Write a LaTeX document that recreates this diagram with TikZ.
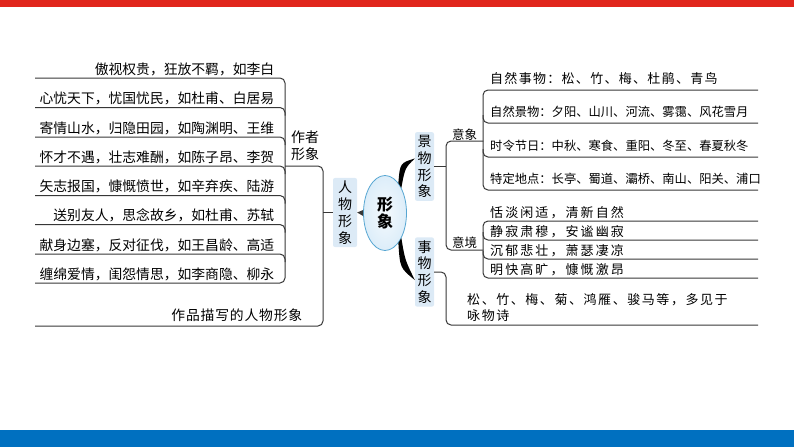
\documentclass[tikz,border=0pt]{standalone}
\usepackage{fontspec}
\setmainfont{Noto Sans CJK SC}
\usepackage{tikz}
\usetikzlibrary{shapes.geometric}
\definecolor{barred}{RGB}{225,38,28}
\definecolor{barblue}{RGB}{0,112,192}
\definecolor{boxblue}{RGB}{220,234,246}
\definecolor{ringblue}{RGB}{86,166,210}
\definecolor{ovalblue}{RGB}{220,237,249}
\definecolor{linegray}{RGB}{55,55,55}

\begin{document}
\begin{tikzpicture}[x=1pt,y=-1pt,
  branch/.style={draw=linegray, line width=1pt, rounded corners=5pt},
  catbox/.style={fill=boxblue, rounded corners=2pt, inner ysep=3pt, text width=14pt,
    align=center, font=\fontsize{14}{16.8}\selectfont},
  leftleaf/.style={anchor=south west, inner xsep=0pt, inner ysep=2pt, text width=239pt,
    align=right, font=\fontsize{13.8}{16}\selectfont},
  rightleaf/.style={anchor=south west, inner xsep=7pt, inner ysep=5pt, text width=275pt,
    align=left, font=\fontsize{12.3}{15}\selectfont},
  moodleaf/.style={rightleaf, inner ysep=1.5pt,
    font=\fontsize{13}{15}\selectfont\addfontfeature{LetterSpace=16}},
  kindtag/.style={anchor=south west, inner xsep=0pt, text width=37pt, align=center,
    font=\fontsize{12.5}{15}\selectfont}]

\useasboundingbox (0,0) rectangle (794,447);
\fill[barred] (0,0) rectangle (794,7);
\fill[barblue] (0,430) rectangle (794,447);

\coordinate (lspine) at (285,0);
\coordinate (mspine) at (323,0);
\coordinate (rend) at (758,0);

\node[leftleaf] (a1) at (35,78) {傲视权贵，狂放不羁，如李白};
\node[leftleaf] (a2) at (35,107.5) {心忧天下，忧国忧民，如杜甫、白居易};
\node[leftleaf] (a3) at (35,137) {寄情山水，归隐田园，如陶渊明、王维};
\node[leftleaf] (a4) at (35,166) {怀才不遇，壮志难酬，如陈子昂、李贺};
\node[leftleaf] (a5) at (35,195.5) {矢志报国，慷慨愤世，如辛弃疾、陆游};
\node[leftleaf] (a6) at (35,224.5) {送别友人，思念故乡，如杜甫、苏轼};
\node[leftleaf] (a7) at (35,254) {献身边塞，反对征伐，如王昌龄、高适};
\node[leftleaf] (a8) at (35,283) {缠绵爱情，闺怨情思，如李商隐、柳永};

\node[anchor=south west, inner xsep=6pt, inner ysep=5pt, align=left,
  font=\fontsize{14}{17}\selectfont] (zz) at (285,166) {作者\\形象};
\node[leftleaf, text width=267pt, inner ysep=4pt,
  font=\fontsize{13.8}{16}\selectfont\addfontfeature{LetterSpace=6}] (bt) at (35,326) {作品描写的人物形象};

\node[catbox, inner xsep=5pt] (rw) at (345,212.5) {人\\物\\形\\象};
\node[ellipse, draw=ringblue, line width=0.8pt, inner color=white!70!ovalblue,
  outer color=ovalblue, minimum width=43pt, minimum height=75pt, inner sep=0pt,
  align=center, font=\bfseries\fontsize{16}{17.5}\selectfont] (xx) at (385,213) {形\\象};
\node[catbox, inner xsep=2.5pt] (jw) at (424.5,166.5) {景\\物\\形\\象};
\node[catbox, inner xsep=2.5pt] (sw) at (424.5,272) {事\\物\\形\\象};

\node[kindtag, inner ysep=0pt] (yx) at (446,141) {意象};
\node[kindtag, inner ysep=1.5pt] (yj) at (446,250) {意境};

\node[rightleaf, font=\fontsize{13}{15}\selectfont\addfontfeature{LetterSpace=10}] (m1) at (483,90) {自然事物：松、竹、梅、杜鹃、青鸟};
\node[rightleaf] (m2) at (483,123) {自然景物：夕阳、山川、河流、雾霭、风花雪月};
\node[rightleaf] (m3) at (483,157) {时令节日：中秋、寒食、重阳、冬至、春夏秋冬};
\node[rightleaf] (m4) at (483,190) {特定地点：长亭、蜀道、灞桥、南山、阳关、浦口};

\node[moodleaf] (n1) at (483,221) {恬淡闲适，清新自然};
\node[moodleaf] (n2) at (483,240) {静寂肃穆，安谧幽寂};
\node[moodleaf] (n3) at (483,259) {沉郁悲壮，萧瑟凄凉};
\node[moodleaf] (n4) at (483,278) {明快高旷，慷慨激昂};

\node[rightleaf, inner xsep=21pt, inner ysep=3pt,
  font=\fontsize{13}{16}\selectfont\addfontfeature{LetterSpace=12}] (ww) at (446,325) {松、竹、梅、菊、鸿雁、骏马等，多见于\\咏物诗};

\draw[branch] (a1.south west) -- (a1.south -| lspine) -- (a8.south -| lspine) -- (a8.south west);
\draw[branch] (a2.south west) -- (a2.south -| lspine) -- ++(0,8);
\draw[branch] (a3.south west) -- (a3.south -| lspine) -- ++(0,8);
\draw[branch] (a4.south west) -- (a4.south -| lspine) -- ++(0,8);
\draw[branch] (a5.south west) -- (a5.south -| lspine) -- ++(0,8);
\draw[branch] (a6.south west) -- (a6.south -| lspine) -- ++(0,8);
\draw[branch] (a7.south west) -- (a7.south -| lspine) -- ++(0,8);
\draw[branch] (zz.south west) -- (zz.south -| mspine) -- (bt.south -| mspine) -- (bt.south west);
\draw[branch] (rw.west) -- (rw.west -| mspine);
\fill[linegray] (rw.east) -- ([yshift=3pt]xx.west) -- ([yshift=-3pt]xx.west) -- cycle;

\fill[black] (xx.66) .. controls (400,163) .. ([yshift=8pt]jw.west) .. controls (405,168) .. (xx.57) -- cycle;
\fill[black] (xx.-66) .. controls (400,268) .. ([yshift=-8pt]sw.west) .. controls (405,260) .. (xx.-57) -- cycle;

\draw[branch] (jw.east) -- (jw.east -| yx.south west);
\draw[branch] (yx.south east) -- (yx.south west) -- (yj.south west) -- (yj.south east);
\draw[branch] (m1.south -| rend) -- (m1.south west) -- (m4.south west) -- (m4.south -| rend);
\draw[branch] (m2.south -| rend) -- (m2.south west) -- ++(0,-8);
\draw[branch] (m3.south -| rend) -- (m3.south west) -- ++(0,-8);
\draw[branch] (n1.south -| rend) -- (n1.south west) -- (n4.south west) -- (n4.south -| rend);
\draw[branch] (n2.south -| rend) -- (n2.south west) -- ++(0,-8);
\draw[branch] (n3.south -| rend) -- (n3.south west) -- ++(0,-8);
\draw[branch] (sw.east) -- (sw.east -| ww.south west) -- (ww.south west) -- (ww.south -| rend);
\end{tikzpicture}
\end{document}
